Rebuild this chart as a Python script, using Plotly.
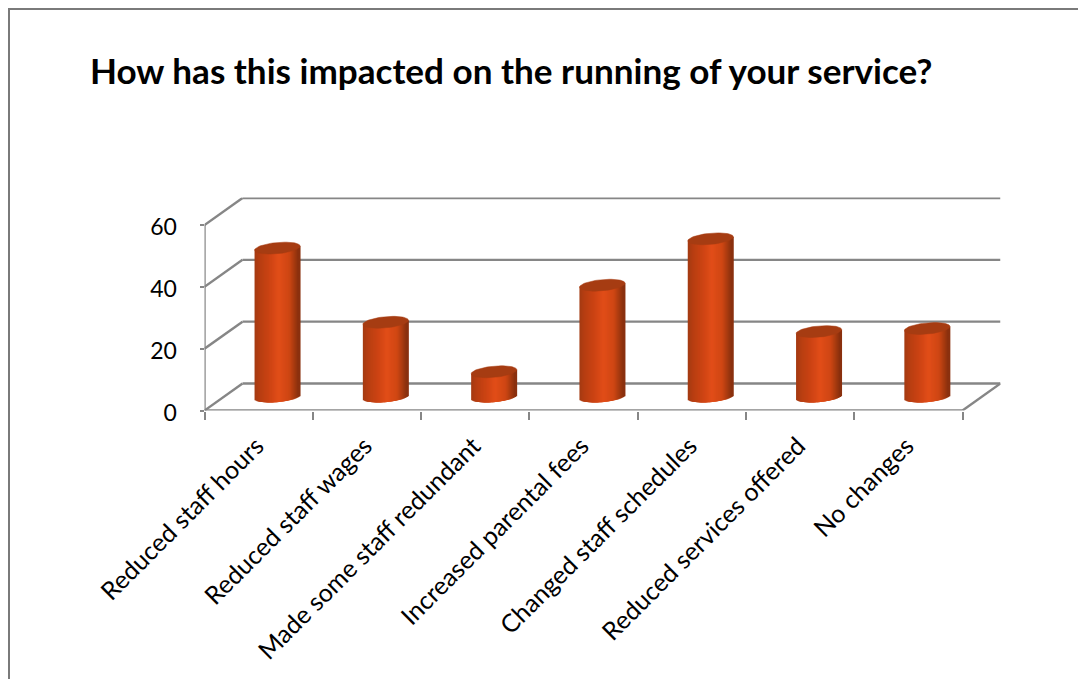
import numpy as np
import plotly.graph_objects as go

categories = ["Reduced staff hours", "Reduced staff wages", "Made some staff redundant",
              "Increased parental fees", "Changed staff schedules", "Reduced services offered", "No changes"]
values = [48, 24, 8, 36, 51, 21, 22]
y_ticks = [0, 20, 40, 60]
title = "How has this impacted on the running of your service?"

W, H = 1078, 679
L, R, B, T = 204.5, 1000.5, 410.5, 197.5
PX = 108.3          # px per category
PY = 185.5 / 60     # px per value unit
DX, DY = 38 / PX, 27 / PY   # depth of the 3D box in axis units
XMIN, XMAX = -0.5, -0.5 + (R - L) / PX
YMAX = (B - T) / PY
GRID = "#868686"
FONT = "Lato"

fig = go.Figure()
cx_off = DX / 2 - 0.3 / PX
cy_off = 14 / PY
half_w = 22.8 / PX
tilt = 2.0 / PY
eb = 5.6 / PY

stops_u = [-1, -0.75, -0.3, 0.1, 0.55, 0.8, 1]
stops_c = [(160, 58, 18), (182, 62, 18), (205, 68, 20), (226, 78, 25), (207, 71, 20), (165, 58, 16), (130, 46, 14)]


def shade(u):
    return "rgb(%d,%d,%d)" % tuple(np.interp(u, stops_u, [c[i] for c in stops_c]) for i in range(3))


# vertical strips one pixel apart, each three pixels wide and painted left to right
strip = 1 / PX
overlap = 3 * strip
strip_x = np.arange(-half_w + overlap / 2, half_w - overlap / 2 + strip / 2, strip)
us = strip_x / half_w
for i, v in enumerate(values):
    cx = i + cx_off
    edge = np.sqrt(np.clip(1 - us ** 2, 0, 1))
    bottoms = cy_off + tilt * us - eb * edge
    tops = cy_off + v + tilt * us
    fig.add_trace(go.Bar(x=cx + strip_x, y=tops - bottoms, base=bottoms, width=overlap,
                         marker=dict(color=[shade(u) for u in us], line=dict(width=0)),
                         hoverinfo="skip", showlegend=False))
    t = np.linspace(0, 2 * np.pi, 61)
    fig.add_trace(go.Scatter(x=cx + half_w * np.cos(t), y=cy_off + v + tilt * np.cos(t) + eb * np.sin(t),
                             mode="lines", fill="toself", fillcolor="#a63c12",
                             line=dict(color="#a63c12", width=0.5),
                             hoverinfo="skip", showlegend=False))

shapes = []


def seg(x0, y0, x1, y1):
    shapes.append(dict(type="line", xref="x", yref="y", x0=x0, y0=y0, x1=x1, y1=y1,
                       layer="below", line=dict(color=GRID, width=2.4)))


for v in y_ticks:
    seg(XMIN, v, XMIN + DX, v + DY)
    seg(XMIN + DX, v + DY, XMAX, v + DY)
seg(XMIN, 0, XMIN, y_ticks[-1])
seg(XMIN, 0, XMAX - DX, 0)
seg(XMAX - DX, 0, XMAX, DY)

# outer frame of the picture
shapes.append(dict(type="path", xref="paper", yref="paper", layer="below",
                   path=f"M {9/W} -0.01 L {9/W} {1-9/H} L 1.01 {1-9/H}",
                   line=dict(color="#7a7a7a", width=2)))

fig.update_layout(
    width=W, height=H, autosize=False,
    margin=dict(l=0, r=0, t=0, b=0, pad=0),
    paper_bgcolor="white", plot_bgcolor="rgba(0,0,0,0)",
    barmode="overlay", showlegend=False, shapes=shapes,
    font=dict(family=FONT, color="black"),
    title=dict(text=f"<b>{title}</b>", x=90 / W, xanchor="left", xref="paper",
               y=1 - 72 / H, yanchor="middle", yref="paper",
               font=dict(family=FONT, size=35.1, color="black")),
    xaxis=dict(domain=[L / W, R / W], range=[XMIN, XMAX], showgrid=False, zeroline=False, showline=False,
               automargin=False,
               tickmode="array", tickvals=list(range(len(categories))), ticktext=categories,
               tickangle=-45, ticks="", tickfont=dict(size=25, family=FONT),
               ticklabelstandoff=15, ticklabelshift=-2,
               minor=dict(ticks="outside", ticklen=8, tickwidth=2, tickcolor=GRID,
                          tickvals=[k - 0.5 for k in range(len(categories) + 1)], showgrid=False)),
    yaxis=dict(domain=[1 - B / H, 1 - T / H], range=[0, YMAX], showgrid=False, zeroline=False, showline=False,
               automargin=False,
               tickmode="array", tickvals=y_ticks, ticks="outside", ticklen=4, tickwidth=2, tickcolor=GRID,
               tickfont=dict(size=23, family=FONT), ticklabelstandoff=18, ticklabelshift=2,
               anchor="x"),
)

fig.write_html("out.html", config=dict(displayModeBar=False), post_script="document.body.style.margin='0';")
